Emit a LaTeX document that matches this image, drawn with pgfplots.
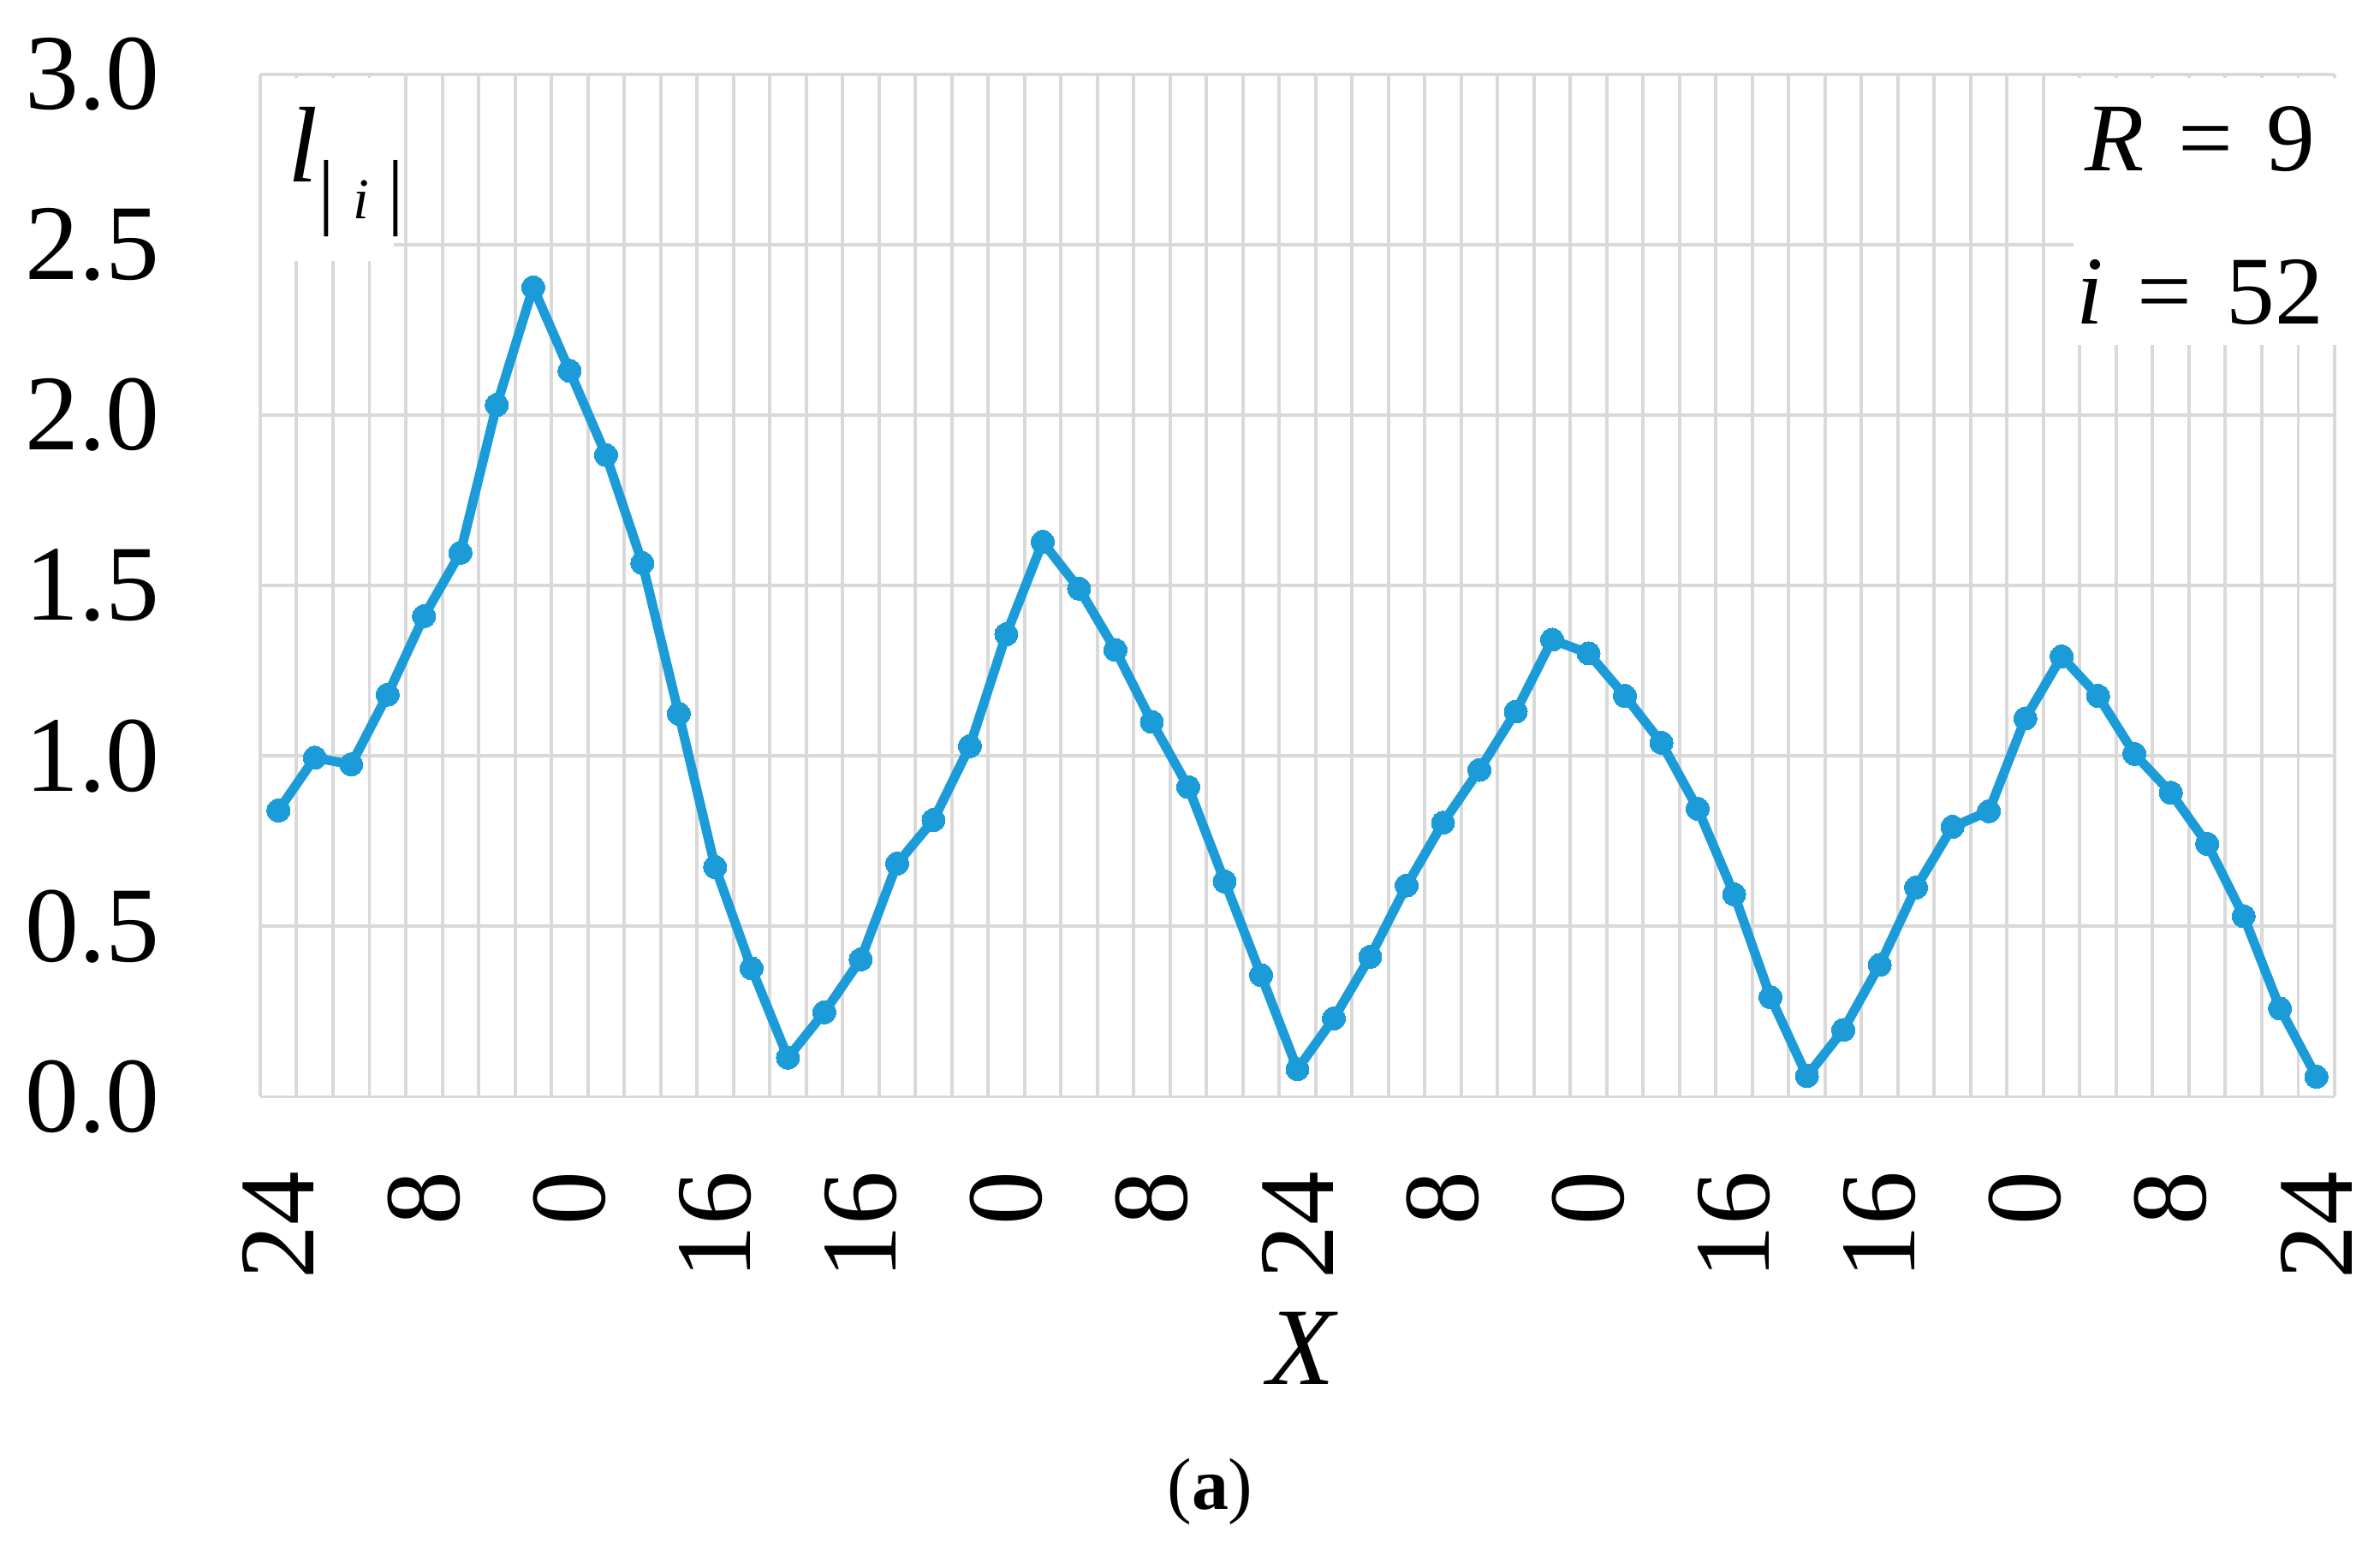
\documentclass[border=0pt]{standalone}
\usepackage{fontspec}
\setmainfont{Liberation Serif}
\usepackage{pgfplots}
\usepackage{pgfplotstable}
\pgfplotsset{compat=1.18}

\definecolor{lineblue}{RGB}{27,155,216}
\definecolor{gridgray}{RGB}{217,217,217}

% l_|i| along the path, 57 positions
\pgfplotstableread{
idx val
0 0.840
1 0.995
2 0.975
3 1.180
4 1.410
5 1.596
6 2.030
7 2.375
8 2.130
9 1.883
10 1.566
11 1.124
12 0.674
13 0.377
14 0.115
15 0.248
16 0.403
17 0.684
18 0.812
19 1.029
20 1.357
21 1.628
22 1.491
23 1.311
24 1.100
25 0.909
26 0.632
27 0.357
28 0.081
29 0.230
30 0.411
31 0.620
32 0.804
33 0.959
34 1.130
35 1.341
36 1.301
37 1.176
38 1.039
39 0.845
40 0.594
41 0.292
42 0.061
43 0.196
44 0.387
45 0.614
46 0.792
47 0.838
48 1.110
49 1.292
50 1.176
51 1.006
52 0.892
53 0.742
54 0.530
55 0.259
56 0.059
}\ldata

\begin{document}
\begin{tikzpicture}
\begin{axis}[
  scale only axis,
  width=395.3pt, height=194.9pt,
  xmin=-0.5, xmax=56.5, ymin=0, ymax=3,
  clip=false,
  axis line style={draw=none},
  xtick={-0.5,0.5,...,56.5},
  xticklabels={},
  ytick={0,0.5,...,3},
  yticklabels={0.0,0.5,1.0,1.5,2.0,2.5,3.0},
  grid=major,
  grid style={draw=gridgray, line width=0.65pt},
  major tick length=0pt,
  tick style={draw=none},
  extra x ticks={0,4,...,56},
  extra x tick labels={24,8,0,16,16,0,8,24,8,0,16,16,0,8,24},
  extra x tick style={grid=none},
  ticklabel style={font=\fontsize{20.5}{24}\selectfont, inner sep=0pt},
  xticklabel style={rotate=90, anchor=east},
  xticklabel shift=14pt,
  yticklabel shift=19pt,
  /pgf/number format/assume math mode=true,
]
% white boxes behind the labels
\fill[white] (axis cs:-0.45,2.453) rectangle (axis cs:3.17,2.99);
\fill[white] (axis cs:49.32,2.207) rectangle (axis cs:56.7,2.99);

\addplot[lineblue, line width=1.8pt, line join=round,
  mark=*, mark size=2.2pt, mark options={fill=lineblue, draw=lineblue, line width=0pt}]
  table[x=idx, y=val] {\ldata};

\node[anchor=base west, inner sep=0pt] at (axis cs:0.23,2.684)
  {\fontsize{20.5}{24}\selectfont\itshape l\upshape\raisebox{-7pt}{\fontsize{16}{16}\selectfont|\hspace{3.5pt}\fontsize{11}{11}\selectfont\itshape i\upshape\hspace{3.5pt}\fontsize{16}{16}\selectfont|}};
\node[anchor=base, inner sep=0pt] at (axis cs:52.8,2.716)
  {\fontsize{18.5}{22}\selectfont\itshape R\upshape\hspace{0.35em}=\hspace{0.35em}9};
\node[anchor=base, inner sep=0pt] at (axis cs:52.8,2.267)
  {\fontsize{18.5}{22}\selectfont\itshape i\upshape\hspace{0.35em}=\hspace{0.35em}52};

\node[inner sep=0pt] at (axis cs:28.1,-0.738) {\fontsize{21}{24}\selectfont\itshape X};
\node[inner sep=0pt] at (axis cs:25.6,-1.158) {\fontsize{14}{16}\selectfont(\textbf{a})};

% page extent of the original figure
\path (axis cs:-7.651,-1.3106) rectangle (axis cs:57.747,3.218);
\end{axis}
\end{tikzpicture}
\end{document}
